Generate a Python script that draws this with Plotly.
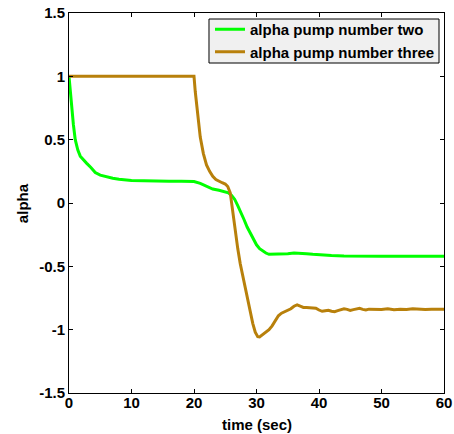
import plotly.graph_objects as go

# Simulated valve-angle responses for two pumps
t_two = [0, 0.2, 0.4, 0.7, 1.0, 1.4, 1.8, 2.3, 2.8, 3.5, 4.2, 5, 6, 7, 8, 9, 10, 12, 14, 16, 18, 20,
         21, 22, 23, 24, 25, 25.5, 26, 26.5, 27, 27.5, 28, 28.5, 29, 29.5, 30, 30.5, 31, 31.5, 32,
         33, 34, 35, 36, 37, 38, 39, 40, 42, 44, 46, 50, 55, 60]
alpha_two = [1.0, 0.88, 0.76, 0.62, 0.5, 0.42, 0.37, 0.34, 0.315, 0.28, 0.24, 0.22, 0.205, 0.195,
             0.188, 0.182, 0.178, 0.175, 0.172, 0.172, 0.172, 0.17,
             0.155, 0.13, 0.11, 0.1, 0.09, 0.08, 0.06, 0.03, -0.02, -0.07, -0.13, -0.19, -0.24,
             -0.29, -0.33, -0.36, -0.38, -0.395, -0.405,
             -0.405, -0.40, -0.40, -0.395, -0.395, -0.40, -0.405, -0.41, -0.415, -0.418, -0.42,
             -0.42, -0.42, -0.42]

t_three = [0, 5, 10, 15, 20, 20.2, 20.4, 20.7, 21, 21.5, 22, 22.5, 23, 23.5, 24, 24.5, 25, 25.4,
           25.8, 26.2, 26.6, 27, 27.4, 27.8, 28.2, 28.6, 29, 29.4, 29.8, 30.2, 30.5, 31, 31.5, 32,
           32.5, 33, 33.5, 34, 34.5, 35, 35.5, 36, 36.5, 37, 37.5, 38, 39, 39.5, 40, 40.5, 41, 41.5,
           42, 42.5, 43, 43.5, 44, 44.5, 45, 45.5, 46, 46.5, 47, 47.5, 48, 49, 50, 51, 52, 53, 54,
           55, 56, 57, 58, 59, 60]
alpha_three = [1.0, 1.0, 1.0, 1.0, 1.0, 0.88, 0.78, 0.64, 0.52, 0.39, 0.3, 0.25, 0.21, 0.185, 0.17,
               0.16, 0.15, 0.13, 0.08, -0.08, -0.22, -0.36, -0.48, -0.58, -0.67, -0.76, -0.86,
               -0.95, -1.02, -1.055, -1.058, -1.04, -1.025, -1.0, -0.97, -0.93, -0.89, -0.87, -0.86,
               -0.85, -0.835, -0.815, -0.805, -0.815, -0.825, -0.825, -0.828, -0.83, -0.845, -0.855,
               -0.85, -0.847, -0.855, -0.858, -0.85, -0.845, -0.835, -0.84, -0.848, -0.842, -0.835,
               -0.832, -0.84, -0.845, -0.838, -0.842, -0.84, -0.835, -0.842, -0.838, -0.84, -0.835,
               -0.84, -0.84, -0.838, -0.84, -0.838]

x_ticks = [0, 10, 20, 30, 40, 50, 60]
y_ticks = [-1.5, -1, -0.5, 0, 0.5, 1, 1.5]
y_tick_text = ["-1.5", "-1", "-0.5", "0", "0.5", "1", "1.5"]

FONT = "Arial, 'Liberation Sans', Helvetica, sans-serif"
TEXT = dict(family=FONT, size=15, color="black", weight="bold")

fig = go.Figure()
fig.add_trace(go.Scatter(x=t_two, y=alpha_two, mode="lines", name="alpha pump number two",
                         line=dict(color="#00ff00", width=3)))
fig.add_trace(go.Scatter(x=t_three, y=alpha_three, mode="lines", name="alpha pump number three",
                         line=dict(color="#b8800b", width=3)))

axis_common = dict(showline=True, linecolor="black", linewidth=1, mirror="ticks",
                   ticks="inside", ticklen=4, tickcolor="black", showgrid=False, zeroline=False,
                   automargin=False, tickfont=TEXT)

fig.update_xaxes(range=[0, 60], tickvals=x_ticks, ticklabelstandoff=-4, **axis_common)
fig.update_yaxes(range=[-1.5, 1.5], tickvals=y_ticks, ticktext=y_tick_text, **axis_common)

# axis titles
fig.add_annotation(text="time (sec)", xref="paper", yref="paper", x=0.5, y=-0.082,
                   xanchor="center", yanchor="middle", showarrow=False, font=TEXT)
fig.add_annotation(text="alpha", xref="paper", yref="paper", x=-0.125, y=0.5, textangle=-90,
                   xanchor="center", yanchor="middle", showarrow=False, font=TEXT)

# legend frame (light grey box with black border)
fig.add_shape(type="rect", xref="paper", yref="paper", x0=0.3733, x1=0.9867, y0=0.8684, y1=0.9842,
              fillcolor="#f0f0f0", line=dict(color="black", width=1), layer="above")

fig.update_layout(
    width=454, height=434,
    margin=dict(l=69, r=10, t=13, b=41),
    paper_bgcolor="white", plot_bgcolor="white",
    showlegend=True,
    legend=dict(x=0.376, y=1.0, xanchor="left", yanchor="top",
                bgcolor="rgba(0,0,0,0)", borderwidth=0,
                font=TEXT, tracegroupgap=0, itemwidth=30),
)

fig.write_html("out.html")
